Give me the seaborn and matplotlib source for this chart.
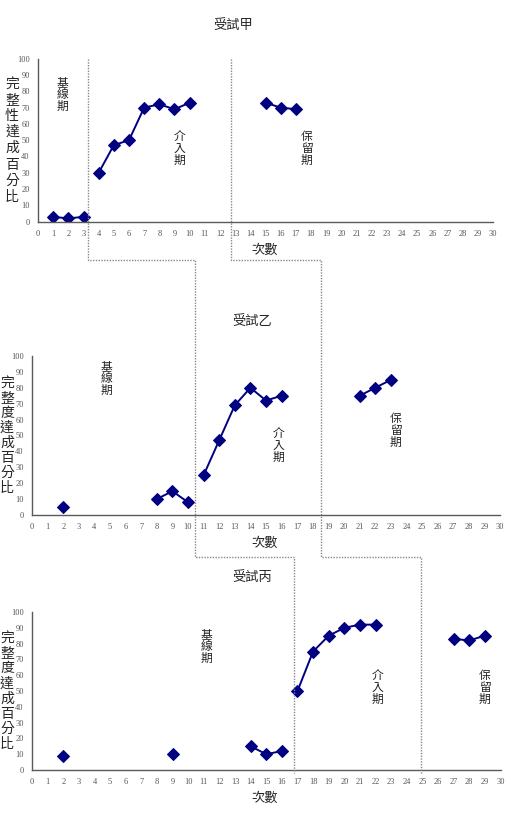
import matplotlib
matplotlib.use('Agg')
import matplotlib.pyplot as plt
import seaborn as sns
import pandas as pd
from matplotlib.lines import Line2D

sns.set_style('white')
plt.rcParams['font.family'] = ['Noto Sans CJK TC', 'DejaVu Sans']

# data
titles = ['受試甲', '受試乙', '受試丙']
ylabels = ['完整性達成百分比', '完整度達成百分比', '完整度達成百分比']
phase_names = ['基線期', '介入期', '保留期']

sessions_a = [1, 2, 3, 4, 5, 6, 7, 8, 9, 10, 15, 16, 17]
values_a = [3, 2, 3, 30, 47, 50, 70, 72, 69, 73, 73, 70, 69]
sessions_b = [2, 8, 9, 10, 11, 12, 13, 14, 15, 16, 21, 22, 23]
values_b = [5, 10, 15, 8, 25, 47, 69, 80, 72, 75, 75, 80, 85]
sessions_c = [2, 9, 14, 15, 16, 17, 18, 19, 20, 21, 22, 27, 28, 29]
values_c = [9, 10, 15, 10, 12, 50, 75, 85, 90, 92, 92, 83, 82, 85]

# phase change lines (between sessions)
bounds_a = [3.3, 12.7]
bounds_b = [10.45, 18.5]
bounds_c = [16.8, 24.9]

# phase label spots (session, percent)
label_pos_a = [(1.6, 78), (9.3, 45), (17.7, 45)]
label_pos_b = [(4.8, 86), (15.8, 44), (23.3, 53)]
label_pos_c = [(11.2, 78), (22.1, 52), (29.0, 52)]

W, H = 508, 824
boxes = [(38, 493, 58.7, 221.7), (32, 500, 356, 515), (32, 500.5, 612, 770)]
title_xy = [(233, 25), (252, 322), (252, 578)]
xlab_y = [250, 543, 798]
ylab_x = [12, 7, 7]
step_y = [260, 557]

navy = '#000080'
serif = 'Liberation Serif'

fig = plt.figure(figsize=(W / 100, H / 100), dpi=100)


def fx(px):
    return px / W


def fy(py):
    return 1 - py / H


def runs(sessions, values, bounds):
    df = pd.DataFrame({'session': sessions, 'value': values})
    phase = sum((df['session'] > b).astype(int) for b in bounds)
    gap = (df['session'].diff() != 1) | (phase.diff() != 0)
    df['run'] = gap.cumsum()
    return df


all_data = [(sessions_a, values_a, bounds_a, label_pos_a),
            (sessions_b, values_b, bounds_b, label_pos_b),
            (sessions_c, values_c, bounds_c, label_pos_c)]

axes = []
for i, (s, v, b, lp) in enumerate(all_data):
    l, r, t, bt = boxes[i]
    ax = fig.add_axes([fx(l), fy(bt), fx(r - l), (bt - t) / H])
    df = runs(s, v, b)
    for _, part in df.groupby('run'):
        sns.lineplot(data=part, x='session', y='value', ax=ax, color=navy,
                     marker='D', markersize=6, markeredgecolor=navy,
                     linewidth=1.4, legend=False)
    ax.set_xlim(0, 30)
    ax.set_ylim(0, 100)
    ax.set_xticks(range(0, 31))
    ax.set_yticks(range(0, 101, 10))
    ax.set_xlabel('')
    ax.set_ylabel('')
    for side in ['top', 'right']:
        ax.spines[side].set_visible(False)
    for side in ['left', 'bottom']:
        ax.spines[side].set_color('#5a5a5a')
        ax.spines[side].set_linewidth(1.0)
    ax.tick_params(direction='in', length=2.5, width=0.8, color='#5a5a5a',
                   labelsize=6, labelcolor='#555555', pad=6)
    for lab in ax.get_xticklabels() + ax.get_yticklabels():
        lab.set_family(serif)
    for name, (px, py) in zip(phase_names, lp):
        ax.text(px, py, '\n'.join(name), ha='center', va='center',
                fontsize=8.5, linespacing=0.9, color='#222222')
    fig.text(fx(title_xy[i][0]), fy(title_xy[i][1]), titles[i],
             ha='center', va='center', fontsize=9.5)
    fig.text(fx(265), fy(xlab_y[i]), '次數', ha='center', va='center',
             fontsize=9.5)
    fig.text(fx(ylab_x[i]), fy((t + bt) / 2), '\n'.join(ylabels[i]),
             ha='center', va='center', fontsize=10,
             linespacing=1.2 if i == 0 else 1.1)
    axes.append(ax)

# staircase phase lines across the three panels
to_fig = fig.transFigure.inverted()
for k in range(2):
    xs = []
    for ax, (_, _, b, _) in zip(axes, all_data):
        xs.append(to_fig.transform(ax.transData.transform((b[k], 0)))[0])
    top = fy(boxes[0][2])
    bottom = fy(boxes[2][3] + 3)
    px = [xs[0], xs[0], xs[1], xs[1], xs[2], xs[2]]
    py = [top, fy(step_y[0]), fy(step_y[0]), fy(step_y[1]), fy(step_y[1]), bottom]
    fig.add_artist(Line2D(px, py, transform=fig.transFigure, color='#888888',
                          linestyle=(0, (1, 1)), linewidth=1.0))

fig.savefig('out.png', dpi=100)
